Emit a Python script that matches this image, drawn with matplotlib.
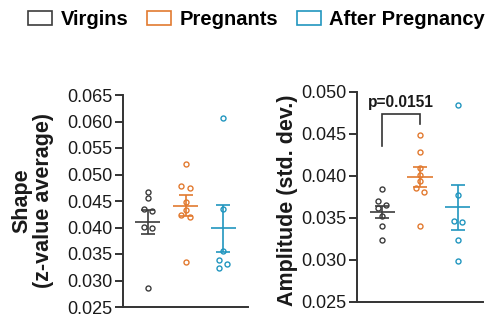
import numpy as np
import matplotlib
matplotlib.use("Agg")
import matplotlib.pyplot as plt
from matplotlib.patches import Patch

plt.rcParams['font.family'] = ['Liberation Sans', 'DejaVu Sans']

# Data
groups = ["Virgins", "Pregnants", "After Pregnancy"]
colors = ["#3c3c3c", "#e27a30", "#2196bf"]

shape_virgins = [0.0467, 0.0456, 0.0434, 0.0432, 0.0401, 0.0400, 0.0285]
shape_pregnants = [0.0520, 0.0479, 0.0475, 0.0448, 0.0433, 0.0423, 0.0419, 0.0334]
shape_after = [0.0607, 0.0434, 0.0355, 0.0339, 0.0331, 0.0324]

amp_virgins = [0.0384, 0.0370, 0.0366, 0.0362, 0.0352, 0.0341, 0.0324]
amp_pregnants = [0.0449, 0.0429, 0.0410, 0.0401, 0.0394, 0.0386, 0.0381, 0.0341]
amp_after = [0.0485, 0.0377, 0.0347, 0.0345, 0.0324, 0.0299]

shape_ticks = [0.025, 0.030, 0.035, 0.040, 0.045, 0.050, 0.055, 0.060, 0.065]
amp_ticks = [0.025, 0.030, 0.035, 0.040, 0.045, 0.050]

p_label = "p=0.0151"
bracket_left, bracket_top, bracket_right = 0.0436, 0.04735, 0.04616

AXIS_COLOR = "#333333"


def swarm_offsets(ax, values, min_gap_px=5.0, step=0.115):
    """Spread points that sit too close together vertically."""
    values = np.asarray(values)
    y_px = ax.transData.transform(np.column_stack([np.zeros(len(values)), values]))[:, 1]
    order = np.argsort(-values)
    offsets = np.zeros(len(values))
    clusters = [[order[0]]]
    for prev, cur in zip(order[:-1], order[1:]):
        if abs(y_px[prev] - y_px[cur]) < min_gap_px:
            clusters[-1].append(cur)
        else:
            clusters.append([cur])
    for cluster in clusters:
        if len(cluster) > 1:
            for k, idx in enumerate(cluster):
                offsets[idx] = -step if k % 2 == 0 else step
    return offsets


def draw_panel(ax, series, ticks, ylim):
    ax.set_xlim(-0.66, 2.66)
    ax.set_ylim(*ylim)
    ax.set_yticks(ticks)
    ax.set_yticklabels([f"{t:.3f}" for t in ticks])
    ax.set_xticks([])
    for side in ["top", "right"]:
        ax.spines[side].set_visible(False)
    for side in ["left", "bottom"]:
        ax.spines[side].set_color(AXIS_COLOR)
        ax.spines[side].set_linewidth(1.4)
    ax.tick_params(axis="y", length=6, width=1.4, color=AXIS_COLOR,
                   labelsize=13, pad=1.5, labelcolor="#1a1a1a")

    for i, (vals, c) in enumerate(zip(series, colors)):
        vals = np.asarray(vals)
        dx = swarm_offsets(ax, vals)
        ax.plot(i + dx, vals, "o", ms=3.6, mew=1.0, mfc="white", mec=c,
                zorder=2, clip_on=False)
        mean = vals.mean()
        sem = vals.std(ddof=1) / np.sqrt(len(vals))
        ax.hlines(mean, i - 0.33, i + 0.33, color=c, lw=1.2, zorder=3)
        ax.errorbar(i, mean, yerr=sem, fmt="none", ecolor=c, elinewidth=1.2,
                    capsize=4.8, capthick=1.2, zorder=3)


fig = plt.figure(figsize=(4.93, 3.21), dpi=100)
ax1 = fig.add_axes([123 / 493, 1 - 307 / 321, 125 / 493, 212 / 321])
ax2 = fig.add_axes([357 / 493, 1 - 302 / 321, 126 / 493, 210 / 321])

draw_panel(ax1, [shape_virgins, shape_pregnants, shape_after], shape_ticks, (0.025, 0.065))
draw_panel(ax2, [amp_virgins, amp_pregnants, amp_after], amp_ticks, (0.025, 0.050))

# significance bracket
ax2.plot([0, 0, 1, 1], [bracket_left, bracket_top, bracket_top, bracket_right],
         color=AXIS_COLOR, lw=1.2, solid_joinstyle="miter")
ax2.text(0.5, 0.0488, p_label, ha="center", va="center", fontsize=11.2,
         fontweight="bold", color="#1a1a1a")

# axis labels
fig.text(33 / 493, 1 - 201 / 321, "Shape\n(z-value average)", rotation=90,
         ha="center", va="center", fontsize=15.5, fontweight="bold",
         linespacing=1.05, color="#1a1a1a")
fig.text(288 / 493, 1 - 200 / 321, "Amplitude (std. dev.)", rotation=90,
         ha="center", va="center", fontsize=15.5, fontweight="bold",
         color="#1a1a1a")

# legend
handles = [Patch(facecolor="white", edgecolor=c, lw=1.2) for c in colors]
fig.legend(handles, groups, loc="center left", bbox_to_anchor=(28 / 493, 1 - 19.5 / 321),
           ncol=3, frameon=False, borderpad=0, borderaxespad=0,
           handlelength=1.2, handleheight=0.65, handletextpad=0.41,
           columnspacing=0.93, prop={"weight": "bold", "size": 14.5})

fig.savefig("out.png", dpi=100)
